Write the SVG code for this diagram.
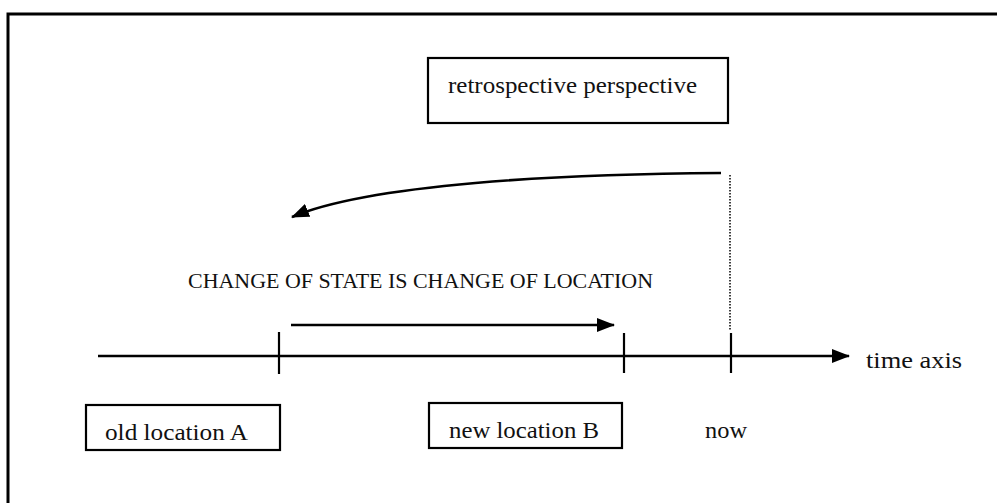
<svg xmlns="http://www.w3.org/2000/svg" width="997" height="503" viewBox="0 0 997 503">
  <style>
    .frame { fill: none; stroke: #000; stroke-width: 3; }
    .box { fill: #fff; stroke: #000; stroke-width: 2.2; }
    .line { fill: none; stroke: #000; stroke-width: 2.6; }
    .tick { fill: none; stroke: #000; stroke-width: 2.2; }
    .dots { fill: none; stroke: #000; stroke-width: 1.5; stroke-dasharray: 1.5 1.5; }
    .label { font-family: 'Liberation Serif', 'DejaVu Serif', 'Times New Roman', serif; font-size: 24px; fill: #111; }
    .caps { font-size: 20px; }
  </style>
  <defs>
    <marker id="head" viewBox="0 0 18 14" refX="17" refY="7" markerWidth="18" markerHeight="14" markerUnits="userSpaceOnUse" orient="auto">
      <path d="M0,0 L18,7 L0,14 Z" fill="#000"/>
    </marker>
  </defs>

  <rect width="997" height="503" fill="#fff"/>
  <!-- outer frame (open on the right and bottom) -->
  <path class="frame" d="M8,503 V14 H997"/>

  <g id="retrospective">
    <rect class="box" x="428" y="58" width="300" height="65"/>
    <text class="label" x="448" y="93" textLength="249" lengthAdjust="spacingAndGlyphs">retrospective perspective</text>
  </g>

  <g id="old-location">
    <rect class="box" x="86" y="405" width="194" height="45"/>
    <text class="label" x="105" y="440" textLength="143" lengthAdjust="spacingAndGlyphs">old location A</text>
  </g>

  <g id="new-location">
    <rect class="box" x="429" y="403" width="193" height="45"/>
    <text class="label" x="449" y="438" textLength="150" lengthAdjust="spacingAndGlyphs">new location B</text>
  </g>

  <g id="now">
    <text class="label" x="705" y="438" textLength="42" lengthAdjust="spacingAndGlyphs">now</text>
  </g>

  <g id="time-axis-label">
    <text class="label" x="866" y="368" textLength="96" lengthAdjust="spacingAndGlyphs">time axis</text>
  </g>

  <g id="metaphor">
    <text class="label caps" x="188" y="288" textLength="465" lengthAdjust="spacingAndGlyphs">CHANGE OF STATE IS CHANGE OF LOCATION</text>
  </g>

  <g id="connectors">
    <!-- time axis with ticks -->
    <line class="line" x1="98" y1="356" x2="849" y2="356" marker-end="url(#head)"/>
    <line class="tick" x1="279" y1="332" x2="279" y2="374"/>
    <line class="tick" x1="624" y1="333" x2="624" y2="373"/>
    <line class="tick" x1="731" y1="333" x2="731" y2="373"/>
    <!-- dotted line from now -->
    <line class="dots" x1="730" y1="175" x2="730" y2="331"/>
    <!-- change of location -->
    <line class="line" x1="291" y1="325" x2="614" y2="325" marker-end="url(#head)"/>
    <!-- retrospective view back -->
    <path class="line" d="M721,173 C560,174 370,184 292,217" marker-end="url(#head)"/>
  </g>
</svg>
